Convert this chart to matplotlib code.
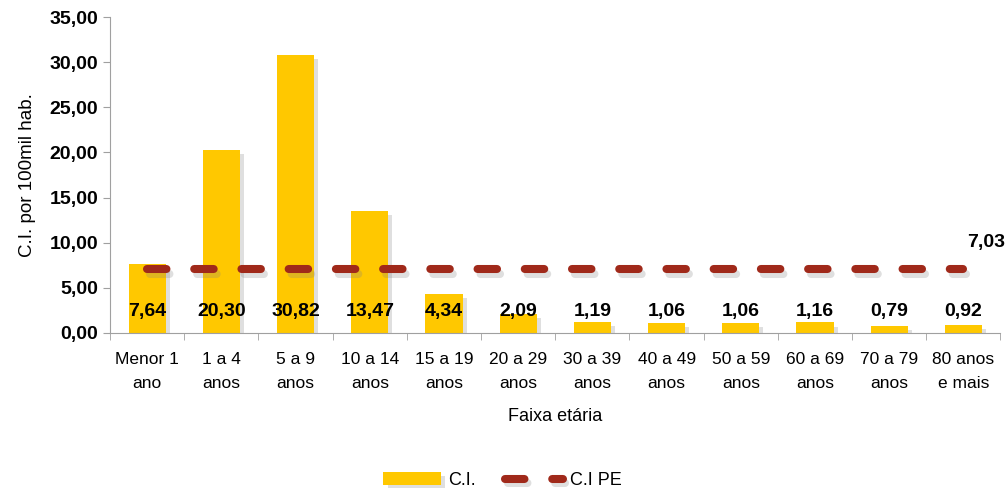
import matplotlib
matplotlib.use("Agg")
import matplotlib.pyplot as plt
import matplotlib.patheffects as pe
import numpy as np

plt.rcParams['font.family'] = ['Liberation Sans', 'DejaVu Sans']
plt.rcParams['lines.scale_dashes'] = False

categorias = ["Menor 1\nano", "1 a 4\nanos", "5 a 9\nanos", "10 a 14\nanos", "15 a 19\nanos",
              "20 a 29\nanos", "30 a 39\nanos", "40 a 49\nanos", "50 a 59\nanos",
              "60 a 69\nanos", "70 a 79\nanos", "80 anos\ne mais"]
ci = [7.64, 20.30, 30.82, 13.47, 4.34, 2.09, 1.19, 1.06, 1.06, 1.16, 0.79, 0.92]
ci_pe = 7.03
yticks = [0, 5, 10, 15, 20, 25, 30, 35]

fig = plt.figure(figsize=(10.05, 4.88), dpi=100)
ax = fig.add_axes([0.1095, 0.318, 0.886, 0.647])

x = np.arange(len(categorias))
bars = ax.bar(x, ci, width=0.5, color="#FFC800", label="C.I.", zorder=2)
for b in bars:
    b.set_path_effects([pe.SimplePatchShadow(offset=(3, -3), shadow_rgbFace="gray", alpha=0.25), pe.Normal()])

line, = ax.plot(x, [ci_pe] * len(x), color="#A0291A", lw=5.8, solid_capstyle="round",
                dash_capstyle="round", label="C.I PE", zorder=3,
                path_effects=[pe.SimpleLineShadow(offset=(2, -3), shadow_color="gray", alpha=0.25), pe.Normal()])
line.set_dashes((14, 20))

for xi, v in zip(x, ci):
    ax.text(xi, 2.4, f"{v:.2f}".replace(".", ","), ha="center", va="center",
            fontsize=14, fontweight="bold", zorder=4)
ax.text(x[-1] + 0.3, 10.0, f"{ci_pe:.2f}".replace(".", ","), ha="center", va="center",
        fontsize=14, fontweight="bold")

ax.set_xlim(-0.5, len(x) - 0.5)
ax.set_ylim(0, 35)
ax.set_yticks(yticks)
ax.set_yticklabels([f"{t:.2f}".replace(".", ",") for t in yticks], fontsize=14, fontweight="bold")
ax.set_xticks(x)
ax.set_xticklabels(categorias, fontsize=12.5, linespacing=1.75)
ax.set_xticks(np.arange(-0.5, len(x), 1), minor=True)
ax.tick_params(axis="x", which="major", length=0, pad=14)
ax.tick_params(axis="x", which="minor", length=5, color="#A0A0A0")
ax.tick_params(axis="y", length=5, color="#A0A0A0")
for s in ["top", "right"]:
    ax.spines[s].set_visible(False)
for s in ["left", "bottom"]:
    ax.spines[s].set_color("#A0A0A0")

ax.set_ylabel("C.I. por 100mil hab.", fontsize=13.5, labelpad=10)
ax.set_xlabel("Faixa etária", fontsize=13, labelpad=12)

fig.legend(handles=[bars, line], loc="lower center", ncol=2, frameon=False,
           bbox_to_anchor=(0.5, -0.035), fontsize=13, handlelength=3.2,
           handletextpad=0.4, columnspacing=1.6)

fig.savefig("out.png", dpi=100)
